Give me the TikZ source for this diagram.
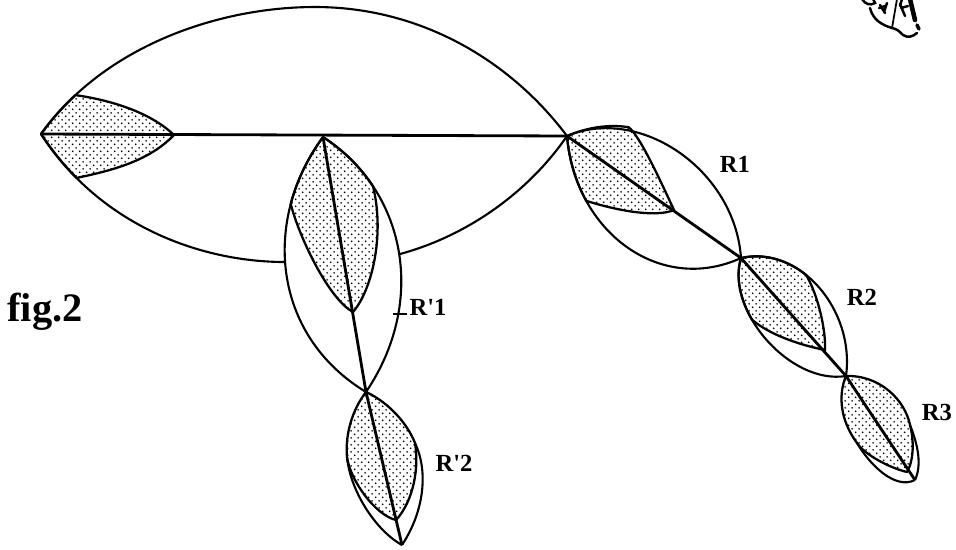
\documentclass[tikz,border=0pt]{standalone}
\usepackage{fontspec}
\setmainfont{Liberation Serif}
\usetikzlibrary{patterns,positioning}
\pgfdeclarepatternformonly{stipple dots}{\pgfqpoint{0pt}{0pt}}{\pgfqpoint{4.2pt}{4.2pt}}{\pgfqpoint{4.2pt}{4.2pt}}{
  \pgfpathcircle{\pgfqpoint{1.05pt}{1.05pt}}{0.58pt}
  \pgfpathcircle{\pgfqpoint{3.15pt}{3.15pt}}{0.58pt}
  \pgfusepath{fill}
}
\tikzset{
  outline/.style  = {line width=1.2pt, line join=round},
  axisline/.style = {line width=1.6pt},
  leaf/.style     = {line width=1.3pt, line join=round, pattern=stipple dots},
  scrap/.style    = {line width=1.4pt, line cap=round},
  rlabel/.style   = {font=\bfseries\fontsize{14}{16}\selectfont, inner sep=0pt},
  figlabel/.style = {font=\bfseries\fontsize{23}{25}\selectfont, inner sep=0pt},
}
\begin{document}
\begin{tikzpicture}[x=0.02cm,y=-0.02cm]
  \useasboundingbox (0,0) rectangle (956,549);

  % branch points
  \coordinate (A) at (41,134);
  \coordinate (B) at (567,136);
  \coordinate (A1) at (174,135);
  \coordinate (C) at (323,137);
  \coordinate (C1) at (353,312);
  \coordinate (D) at (366,392);
  \coordinate (D1) at (396,520);
  \coordinate (E) at (402,545);
  \coordinate (F) at (741,258);
  \coordinate (F1) at (674,210);
  \coordinate (G) at (846,376);
  \coordinate (G1) at (825,350);
  \coordinate (H) at (915,480);
  \coordinate (H1) at (907,472);

  % shaded leaves
  \draw[leaf] (A) .. controls (51.2,119.8) and (62.8,106.8) .. (75.4,95.1)
    .. controls (110,100) and (150,112) .. (A1)
    .. controls (150,160) and (115,170) .. (76.5,177.9)
    .. controls (63.6,164.9) and (51.6,150.2) .. (A) -- cycle;
  \draw[leaf] (C) .. controls (307.8,157.8) and (296.9,180.5) .. (290.7,203.9)
    .. controls (300,240) and (330,300) .. (C1)
    .. controls (372,290) and (385,235) .. (373,186.3)
    .. controls (360.3,167.1) and (343.5,150.3) .. (C) -- cycle;
  \draw[leaf] (D) .. controls (352,410) and (345,435) .. (347,457)
    .. controls (350,480) and (375,515) .. (D1)
    .. controls (410,505) and (420,475) .. (415,443)
    .. controls (408,425) and (390,403) .. (D) -- cycle;
  \draw[leaf] (B) .. controls (586.7,127.6) and (608,124) .. (628.7,127.2)
    .. controls (640,136) and (660,180) .. (F1)
    .. controls (655,218) and (615,210) .. (586.2,200.8)
    .. controls (575.8,181.9) and (569,160) .. (B) -- cycle;
  \draw[leaf] (F) .. controls (764.6,252.8) and (787.6,260.1) .. (806.1,274.9)
    .. controls (818,295) and (826,330) .. (G1)
    .. controls (800,345) and (770,335) .. (752,319.7)
    .. controls (740.3,299.6) and (735.1,277.2) .. (F) -- cycle;
  \draw[leaf] (G) .. controls (880,375) and (905,400) .. (910,425)
    .. controls (914,440) and (914,460) .. (H1)
    .. controls (890,468) and (865,455) .. (857,443)
    .. controls (840,420) and (838,395) .. (G) -- cycle;

  % outer arcs
  \draw[outline] (A) .. controls (105,45) and (220,7) .. (315,7)
    .. controls (420,7) and (510,60) .. (B);
  \draw[outline] (A) .. controls (100,225) and (200,262) .. (285,262);
  \draw[outline] (400,254) .. controls (470,235) and (530,190) .. (B);
  \draw[outline] (C) .. controls (262,220) and (272,335) .. (D);
  \draw[outline] (C) .. controls (405,190) and (428,300) .. (D);
  \draw[outline] (347,457) .. controls (350,490) and (375,530) .. (E);
  \draw[outline] (415,443) .. controls (428,470) and (425,510) .. (E);
  \draw[outline] (B) .. controls (640,105) and (735,170) .. (F);
  \draw[outline] (B) .. controls (575,232) and (660,295) .. (F);
  \draw[outline] (F) .. controls (800,245) and (855,310) .. (G);
  \draw[outline] (F) .. controls (725,310) and (790,385) .. (G);
  \draw[outline] (910,425) .. controls (918,445) and (922,465) .. (H);
  \draw[outline] (857,443) .. controls (870,465) and (895,490) .. (H);

  % axes
  \draw[axisline] (A) -- (B);
  \draw[axisline] (C) -- (D) -- (E);
  \draw[axisline] (B) -- (F) -- (G) -- (H);

  % labels
  \node[rlabel] (r1) at (735,164) {R1};
  \node[rlabel] (r2) at (862,297) {R2};
  \node[rlabel] (r3) at (937,412) {R3};
  \node[rlabel] (s1) at (428,307) {R\textquotesingle 1};
  \node[rlabel] (s2) at (454,463) {R\textquotesingle 2};
  \node[figlabel] (fig) at (45,312) {fig.2};

  % tick by R'1
  \draw[line width=1pt] (393,314) -- (407,314);

  % piece of another figure, top right
  \begin{scope}[scrap]
    \clip (850,0) rectangle (930,45);
    \draw (862,-1) .. controls (865,4) and (870,6) .. (875,3) -- (873,-1);
    \draw (870,8) .. controls (873,20) and (882,25) .. (892,28)
      .. controls (897,29) and (899,31) .. (903,35)
      .. controls (908,38) and (912,37) .. (917,33);
    \draw[line width=1pt] (892,28) -- (897,-1);
    \draw (880,5) -- (885,13) (887,3) -- (884,12) (879,8) -- (885,6);
    \draw (900,4) -- (905,16) (901,8) -- (908,6);
    \draw (902,-1) -- (900,6);
    \draw[line width=2.6pt] (910,-1) -- (915,20);
    \draw[line width=2pt] (917,25) -- (919,29);
  \end{scope}
\end{tikzpicture}
\end{document}
